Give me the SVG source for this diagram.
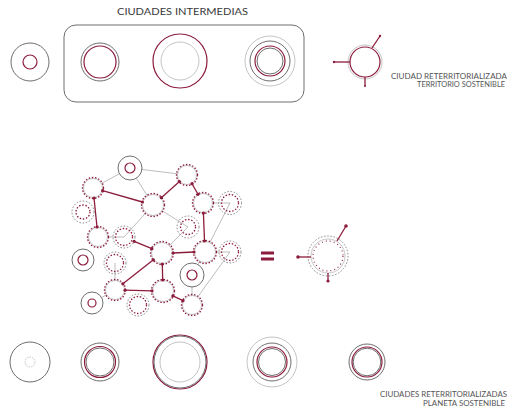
<svg xmlns="http://www.w3.org/2000/svg" width="507" height="411" viewBox="0 0 507 411">
<style>
text{font-family:"Lato","Open Sans","Liberation Sans",sans-serif;fill:#3a3a3a}
.t{font-size:10px}
.s{font-size:6.6px;fill:#555}
.g{fill:none;stroke:#6e6e6e;stroke-width:1}
.lg{fill:none;stroke:#bdbdbd;stroke-width:0.9}
.r{fill:none;stroke:#8c1c3c;stroke-width:1.2}
.w{fill:#fff}
.dr{fill:none;stroke:#8c1c3c;stroke-width:1.3;stroke-dasharray:1.5 1.7}
.dg{fill:none;stroke:#8a8a8a;stroke-width:1;stroke-dasharray:1.6 1.6}
.thin{stroke:#a0a0a0;stroke-width:0.7;fill:none}
.red{stroke:#8c1c3c;stroke-width:1.3;fill:none}
.dot{fill:#8c1c3c}
</style>
<rect width="507" height="411" fill="#fff"/>

<text class="t" x="117" y="15" textLength="131" lengthAdjust="spacingAndGlyphs">CIUDADES INTERMEDIAS</text>

<g id="top-small"><circle cx="30" cy="62" r="19" class="g"/><circle cx="30" cy="62" r="7" class="r"/></g>
<g id="intermedias-box"><rect x="64" y="25" width="240" height="77" rx="12" class="g"/></g>
<g id="top-c2"><circle cx="100" cy="62" r="19" class="g"/><circle cx="100" cy="62" r="16" class="r"/></g>
<g id="top-c3"><circle cx="180" cy="61" r="27" class="r" stroke-width="1.6"/><circle cx="180" cy="61" r="19" class="lg"/></g>
<g id="top-c4"><circle cx="270" cy="61" r="25" class="lg"/><circle cx="270" cy="61" r="20" class="g"/><circle cx="270" cy="61" r="15" class="r" stroke-width="1.4"/><circle cx="270" cy="61" r="13" class="g"/></g>
<g id="top-terr">
<circle cx="365" cy="62" r="17" class="lg"/><circle cx="365" cy="62" r="15" class="r" stroke-width="1.4"/>
<line x1="372" y1="48" x2="380" y2="36" class="red" stroke-width="0.9"/><circle cx="380" cy="36" r="1.2" class="dot"/>
<line x1="350" y1="62" x2="334" y2="62" class="red" stroke-width="0.9"/><circle cx="334" cy="62" r="1.2" class="dot"/>
<line x1="365" y1="77" x2="365" y2="86" class="red" stroke-width="0.9"/><circle cx="365" cy="86" r="1" class="dot"/>
</g>
<text class="s" x="507" y="79" text-anchor="end" textLength="116" lengthAdjust="spacingAndGlyphs">CIUDAD RETERRITORIALIZADA</text>
<text class="s" x="505" y="87" text-anchor="end" textLength="88" lengthAdjust="spacingAndGlyphs">TERRITORIO SOSTENIBLE</text>

<g id="connectors">
<line x1="130" y1="168" x2="187" y2="175" class="thin"/>
<line x1="130" y1="168" x2="93" y2="188" class="thin"/>
<line x1="130" y1="168" x2="153" y2="205" class="thin"/>
<line x1="153" y1="205" x2="188" y2="227" class="thin"/>
<line x1="153" y1="205" x2="124" y2="237" class="thin"/>
<line x1="203" y1="203" x2="230" y2="203" class="thin"/>
<line x1="188" y1="227" x2="162" y2="253" class="thin"/>
<line x1="98" y1="237" x2="124" y2="237" class="thin"/>
<line x1="205" y1="252" x2="230" y2="252" class="thin"/>
<line x1="230" y1="203" x2="205" y2="252" class="thin"/>
<line x1="115" y1="263" x2="115" y2="290" class="thin"/>
<line x1="92" y1="303" x2="115" y2="290" class="thin"/>
<line x1="230" y1="252" x2="192" y2="305" class="thin"/>
<line x1="192" y1="275" x2="192" y2="305" class="thin"/>
<line x1="205" y1="252" x2="192" y2="275" class="thin"/>
<line x1="102.6" y1="190.7" x2="142.4" y2="202" class="red"/>
<line x1="94" y1="198" x2="97" y2="227" class="red"/>
<line x1="179.5" y1="181.6" x2="161.3" y2="197.7" class="red"/>
<line x1="192" y1="183.7" x2="198" y2="194.3" class="red"/>
<line x1="203.4" y1="213" x2="204.5" y2="241" class="red"/>
<line x1="134.1" y1="241.3" x2="151.9" y2="248.7" class="red"/>
<line x1="173" y1="253" x2="194" y2="252" class="red"/>
<line x1="162.3" y1="264" x2="162.7" y2="280" class="red"/>
<line x1="153.4" y1="259.8" x2="122.9" y2="283.8" class="red"/>
<line x1="125" y1="290.2" x2="152" y2="290.8" class="red"/>
<line x1="172.9" y1="295.8" x2="183" y2="300.7" class="red"/>
</g>

<g id="nA"><circle cx="130" cy="168" r="12" class="g w"/><circle cx="130" cy="168" r="5" class="r"/></g>
<g id="nB"><circle cx="187" cy="175" r="9.5" class="lg w"/><circle cx="187" cy="175" r="10.5" class="dr"/></g>
<g id="nC"><circle cx="93" cy="188" r="9.5" class="lg w"/><circle cx="93" cy="188" r="10.5" class="dr"/></g>
<g id="nD"><circle cx="153" cy="205" r="10.5" class="lg w"/><circle cx="153" cy="205" r="11.5" class="dr"/></g>
<g id="nE"><circle cx="203" cy="203" r="9.5" class="lg w"/><circle cx="203" cy="203" r="10.5" class="dr"/></g>
<g id="nF"><circle cx="83" cy="212" r="11" class="dg w"/><circle cx="83" cy="212" r="7" class="dr"/></g>
<g id="nG"><circle cx="188" cy="227" r="11" class="dg w"/><circle cx="188" cy="227" r="7.5" class="dr"/></g>
<g id="nH"><circle cx="230" cy="203" r="11.5" class="dg w"/><circle cx="230" cy="203" r="8.5" class="dr"/></g>
<g id="nI"><circle cx="98" cy="237" r="9.5" class="lg w"/><circle cx="98" cy="237" r="10.5" class="dr"/></g>
<g id="nJ"><circle cx="124" cy="237" r="11" class="dg w"/><circle cx="124" cy="237" r="8.5" class="dr"/></g>
<g id="nK"><circle cx="83" cy="260" r="11" class="g w"/><circle cx="83" cy="260" r="5" class="r"/></g>
<g id="nL"><circle cx="162" cy="253" r="10.5" class="lg w"/><circle cx="162" cy="253" r="11.5" class="dr"/></g>
<g id="nM"><circle cx="205" cy="252" r="10.5" class="lg w"/><circle cx="205" cy="252" r="11.5" class="dr"/></g>
<g id="nN"><circle cx="230" cy="252" r="11" class="dg w"/><circle cx="230" cy="252" r="8.5" class="dr"/></g>
<g id="nO"><circle cx="115" cy="263" r="11" class="dg w"/><circle cx="115" cy="263" r="8.5" class="dr"/></g>
<g id="nP"><circle cx="192" cy="275" r="12" class="g w"/><circle cx="192" cy="275" r="5" class="r"/></g>
<g id="nQ"><circle cx="115" cy="290" r="9.5" class="lg w"/><circle cx="115" cy="290" r="10.5" class="dr"/></g>
<g id="nR"><circle cx="163" cy="291" r="10.5" class="lg w"/><circle cx="163" cy="291" r="11.5" class="dr"/></g>
<g id="nS"><circle cx="92" cy="303" r="11" class="g w"/><circle cx="92" cy="303" r="4" class="r"/></g>
<g id="nT"><circle cx="138" cy="305" r="11" class="dg w"/><circle cx="138" cy="305" r="8.5" class="dr"/></g>
<g id="nU"><circle cx="192" cy="305" r="9.5" class="lg w"/><circle cx="192" cy="305" r="10.5" class="dr"/></g>

<g id="dots">
<circle cx="102.6" cy="190.7" r="1.6" class="dot"/><circle cx="142.4" cy="202" r="1.6" class="dot"/>
<circle cx="94" cy="198" r="1.6" class="dot"/><circle cx="97" cy="227" r="1.6" class="dot"/>
<circle cx="179.5" cy="181.6" r="1.6" class="dot"/><circle cx="161.3" cy="197.7" r="1.6" class="dot"/>
<circle cx="192" cy="183.7" r="1.6" class="dot"/><circle cx="198" cy="194.3" r="1.6" class="dot"/>
<circle cx="203.4" cy="213" r="1.6" class="dot"/><circle cx="204.5" cy="241" r="1.6" class="dot"/>
<circle cx="134.1" cy="241.3" r="1.6" class="dot"/><circle cx="151.9" cy="248.7" r="1.6" class="dot"/>
<circle cx="173" cy="253" r="1.6" class="dot"/><circle cx="194" cy="252" r="1.6" class="dot"/>
<circle cx="162.3" cy="264" r="1.6" class="dot"/><circle cx="162.7" cy="280" r="1.6" class="dot"/>
<circle cx="153.4" cy="259.8" r="1.6" class="dot"/><circle cx="122.9" cy="283.8" r="1.6" class="dot"/>
<circle cx="125" cy="290.2" r="1.6" class="dot"/><circle cx="152" cy="290.8" r="1.6" class="dot"/>
<circle cx="172.9" cy="295.8" r="1.6" class="dot"/><circle cx="183" cy="300.7" r="1.6" class="dot"/>
</g>

<g id="equals"><rect x="261" y="251.5" width="13" height="3" fill="#8c1c3c"/><rect x="261" y="257.5" width="13" height="3" fill="#8c1c3c"/></g>

<g id="combined">
<circle cx="328" cy="256" r="20" class="dg"/>
<circle cx="328" cy="256" r="17" class="lg"/>
<circle cx="328" cy="256" r="15" fill="none" stroke="#8c1c3c" stroke-width="1.1" stroke-dasharray="1 3"/>
<line x1="337" y1="241" x2="346" y2="226" class="red" stroke-width="1.2"/><circle cx="346" cy="226" r="1.8" class="dot"/>
<line x1="311" y1="257" x2="298" y2="257" class="red" stroke-width="1.2"/><circle cx="298" cy="257" r="1.8" class="dot"/>
<line x1="328" y1="273" x2="328" y2="281" class="red" stroke-width="1.2"/><circle cx="328" cy="281" r="1.6" class="dot"/>
</g>

<g id="bot-c1"><circle cx="30" cy="362" r="20" class="g"/><circle cx="30" cy="362" r="5" class="lg" stroke-dasharray="1.5 1"/></g>
<g id="bot-c2"><circle cx="100" cy="362" r="19" class="g"/><circle cx="100" cy="362" r="15.5" class="r" stroke-width="1.4"/><circle cx="100" cy="362" r="14" class="g"/></g>
<g id="bot-c3"><circle cx="180" cy="362" r="27" class="r" stroke-width="1.3"/><circle cx="180" cy="362" r="26" class="g" stroke-width="0.7"/><circle cx="180" cy="362" r="20" class="lg"/></g>
<g id="bot-c4"><circle cx="272" cy="362" r="25" class="lg"/><circle cx="272" cy="362" r="19" class="g"/><circle cx="272" cy="362" r="15" class="r" stroke-width="1.4"/><circle cx="272" cy="362" r="13.5" class="g"/></g>
<g id="bot-c5"><circle cx="367" cy="362" r="18" class="g"/><circle cx="367" cy="362" r="15" class="r" stroke-width="1.4"/><circle cx="367" cy="362" r="13.8" class="g"/></g>
<text class="s" x="507" y="397" text-anchor="end" textLength="127" lengthAdjust="spacingAndGlyphs">CIUDADES RETERRITORIALIZADAS</text>
<text class="s" x="505" y="406" text-anchor="end" textLength="82" lengthAdjust="spacingAndGlyphs">PLANETA SOSTENIBLE</text>
</svg>
